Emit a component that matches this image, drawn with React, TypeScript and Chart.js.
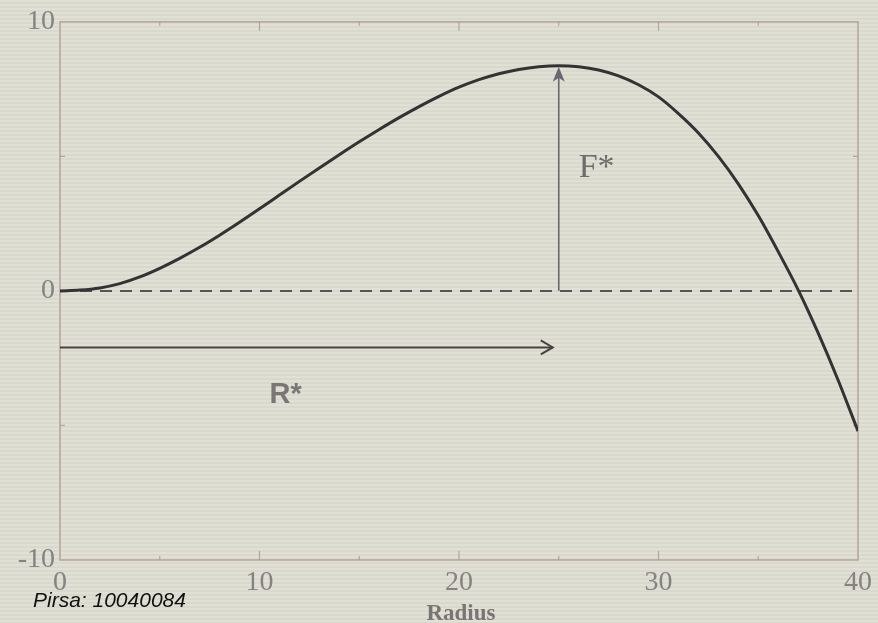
import React, { useEffect, useRef } from "react";
import { Chart, registerables } from "chart.js";

Chart.register(...registerables);

// Data
const radius = [0, 1, 2, 3, 4, 5, 6, 7, 8, 9, 10, 11, 12, 13, 14, 15, 16, 17, 18, 19, 20, 21, 22, 23, 24, 25, 26, 27, 28, 29, 30, 31, 32, 33, 34, 35, 36, 37, 38, 39, 40];
const freeEnergy = [0, 0.03, 0.11, 0.27, 0.52, 0.84, 1.21, 1.62, 2.07, 2.55, 3.05, 3.56, 4.07, 4.57, 5.06, 5.54, 6.0, 6.44, 6.85, 7.23, 7.57, 7.85, 8.07, 8.23, 8.33, 8.37, 8.33, 8.21, 7.99, 7.66, 7.21, 6.59, 5.87, 5.0, 3.98, 2.8, 1.46, 0.04, -1.56, -3.31, -5.21];
const xTickValues = [0, 10, 20, 30, 40];
const yTickValues = [-10, 0, 10];
const xMinorTicks = [5, 15, 25, 35];
const yMinorTicks = [-5, 5];
const baselineX = [0, 40];
const baselineY = [0, 0];
const peakRadius = 25;
const peakEnergy = 8.37;
const radiusArrowY = -2.1;
const radiusArrowEnd = 24.7;
const labelF = "F*";
const labelR = "R*";
const xAxisTitle = "Radius";
const sourceLabel = "Pirsa: 10040084";

const annotationPlugin = {
  id: "annotations",
  beforeDatasetsDraw(chart: any) {
    const { ctx, chartArea, scales } = chart;
    const xs = scales.x;
    const ys = scales.y;
    ctx.save();
    ctx.strokeStyle = "rgba(180,160,155,0.9)";
    ctx.lineWidth = 1.6;
    ctx.strokeRect(chartArea.left, chartArea.top, chartArea.right - chartArea.left, chartArea.bottom - chartArea.top);
    ctx.strokeStyle = "rgba(170,150,145,0.8)";
    ctx.lineWidth = 1.2;
    ctx.beginPath();
    xTickValues.slice(1, -1).forEach((v) => {
      const px = xs.getPixelForValue(v);
      ctx.moveTo(px, chartArea.bottom);
      ctx.lineTo(px, chartArea.bottom - 9);
      ctx.moveTo(px, chartArea.top);
      ctx.lineTo(px, chartArea.top + 9);
    });
    xMinorTicks.forEach((v) => {
      const px = xs.getPixelForValue(v);
      ctx.moveTo(px, chartArea.bottom);
      ctx.lineTo(px, chartArea.bottom - 4);
      ctx.moveTo(px, chartArea.top);
      ctx.lineTo(px, chartArea.top + 4);
    });
    yMinorTicks.forEach((v) => {
      const py = ys.getPixelForValue(v);
      ctx.moveTo(chartArea.left, py);
      ctx.lineTo(chartArea.left + 5, py);
      ctx.moveTo(chartArea.right, py);
      ctx.lineTo(chartArea.right - 5, py);
    });
    ctx.stroke();
    ctx.restore();
  },
  afterDatasetsDraw(chart: any) {
    const { ctx, scales } = chart;
    const xs = scales.x;
    const ys = scales.y;
    ctx.save();
    const vx = xs.getPixelForValue(peakRadius);
    const vy0 = ys.getPixelForValue(0);
    const vy1 = ys.getPixelForValue(peakEnergy);
    ctx.strokeStyle = "#6c6670";
    ctx.fillStyle = "#6c6670";
    ctx.lineWidth = 1.6;
    ctx.beginPath();
    ctx.moveTo(vx, vy0);
    ctx.lineTo(vx, vy1 + 6);
    ctx.stroke();
    ctx.beginPath();
    ctx.moveTo(vx, vy1 + 1);
    ctx.lineTo(vx - 6, vy1 + 16);
    ctx.lineTo(vx, vy1 + 12);
    ctx.lineTo(vx + 6, vy1 + 16);
    ctx.closePath();
    ctx.fill();
    const hy = ys.getPixelForValue(radiusArrowY);
    const hx0 = xs.getPixelForValue(0);
    const hx1 = xs.getPixelForValue(radiusArrowEnd);
    ctx.strokeStyle = "#4a4242";
    ctx.lineWidth = 2;
    ctx.beginPath();
    ctx.moveTo(hx0, hy);
    ctx.lineTo(hx1, hy);
    ctx.stroke();
    ctx.beginPath();
    ctx.moveTo(hx1 - 12, hy - 7);
    ctx.lineTo(hx1, hy);
    ctx.lineTo(hx1 - 12, hy + 7);
    ctx.stroke();
    ctx.fillStyle = "#6e6c6c";
    ctx.font = '34px "Liberation Serif", serif';
    ctx.textBaseline = "alphabetic";
    ctx.textAlign = "left";
    ctx.fillText(labelF, xs.getPixelForValue(26.0), ys.getPixelForValue(4.23));
    ctx.fillStyle = "#7a7676";
    ctx.font = 'bold 29px "Liberation Sans", sans-serif';
    ctx.fillText(labelR, xs.getPixelForValue(10.5), ys.getPixelForValue(-4.16));
    ctx.restore();
  },
};

export default function App() {
  const canvasRef = useRef<HTMLCanvasElement | null>(null);

  useEffect(() => {
    document.body.style.margin = "0";
    const canvas = canvasRef.current;
    if (!canvas) return;
    const chart = new Chart(canvas, {
      type: "line",
      data: {
        datasets: [
          {
            label: "F(R)",
            data: radius.map((r, i) => ({ x: r, y: freeEnergy[i] })),
            borderColor: "#333333",
            borderWidth: 3,
            pointRadius: 0,
            cubicInterpolationMode: "monotone",
            fill: false,
          },
          {
            label: "zero",
            data: baselineX.map((x, i) => ({ x, y: baselineY[i] })),
            borderColor: "#555555",
            borderWidth: 2,
            borderDash: [12, 8],
            pointRadius: 0,
            fill: false,
          },
        ],
      },
      options: {
        animation: false,
        responsive: false,
        maintainAspectRatio: false,
        layout: { padding: { top: 19, right: 18, left: 0, bottom: 0 } },
        plugins: { legend: { display: false }, tooltip: { enabled: false } },
        scales: {
          x: {
            type: "linear",
            min: 0,
            max: 40,
            grid: { display: false, drawTicks: false },
            border: { display: false },
            afterBuildTicks: (scale: any) => {
              scale.ticks = xTickValues.map((v) => ({ value: v }));
            },
            afterFit: (scale: any) => {
              scale.height = 63;
            },
            ticks: {
              color: "#878282",
              padding: 6,
              maxRotation: 0,
              autoSkip: false,
              font: { family: '"Liberation Serif", serif', size: 28 },
            },
          },
          y: {
            type: "linear",
            min: -10,
            max: 10,
            grid: { display: false, drawTicks: false },
            border: { display: false },
            afterBuildTicks: (scale: any) => {
              scale.ticks = yTickValues.map((v) => ({ value: v }));
            },
            afterFit: (scale: any) => {
              scale.width = 60;
            },
            ticks: {
              color: "#878282",
              padding: 5,
              autoSkip: false,
              font: { family: '"Liberation Serif", serif', size: 28 },
            },
          },
        },
      },
      plugins: [annotationPlugin],
    });
    return () => chart.destroy();
  }, []);

  return (
    <div
      style={{
        position: "fixed",
        left: 0,
        top: 0,
        width: 878,
        height: 623,
        overflow: "hidden",
        backgroundColor: "#dcdcd0",
        backgroundImage:
          "repeating-linear-gradient(180deg, rgba(255,255,250,0.12) 0px, rgba(255,255,250,0.12) 2px, rgba(190,190,180,0.12) 2px, rgba(190,190,180,0.12) 4px)",
      }}
    >
      <canvas ref={canvasRef} width={878} height={623} style={{ position: "absolute", left: 0, top: 0 }} />
      <div
        style={{
          position: "absolute",
          left: 0,
          width: 922,
          top: 600,
          textAlign: "center",
          fontFamily: '"Liberation Serif", serif',
          fontWeight: "bold",
          fontSize: 23,
          color: "#7a7575",
          lineHeight: "26px",
        }}
      >
        {xAxisTitle}
      </div>
      <div
        style={{
          position: "absolute",
          left: 33,
          top: 588,
          fontFamily: '"Liberation Sans", Arial, sans-serif',
          fontStyle: "italic",
          fontSize: 21,
          color: "#111111",
          lineHeight: "24px",
        }}
      >
        {sourceLabel}
      </div>
    </div>
  );
}
